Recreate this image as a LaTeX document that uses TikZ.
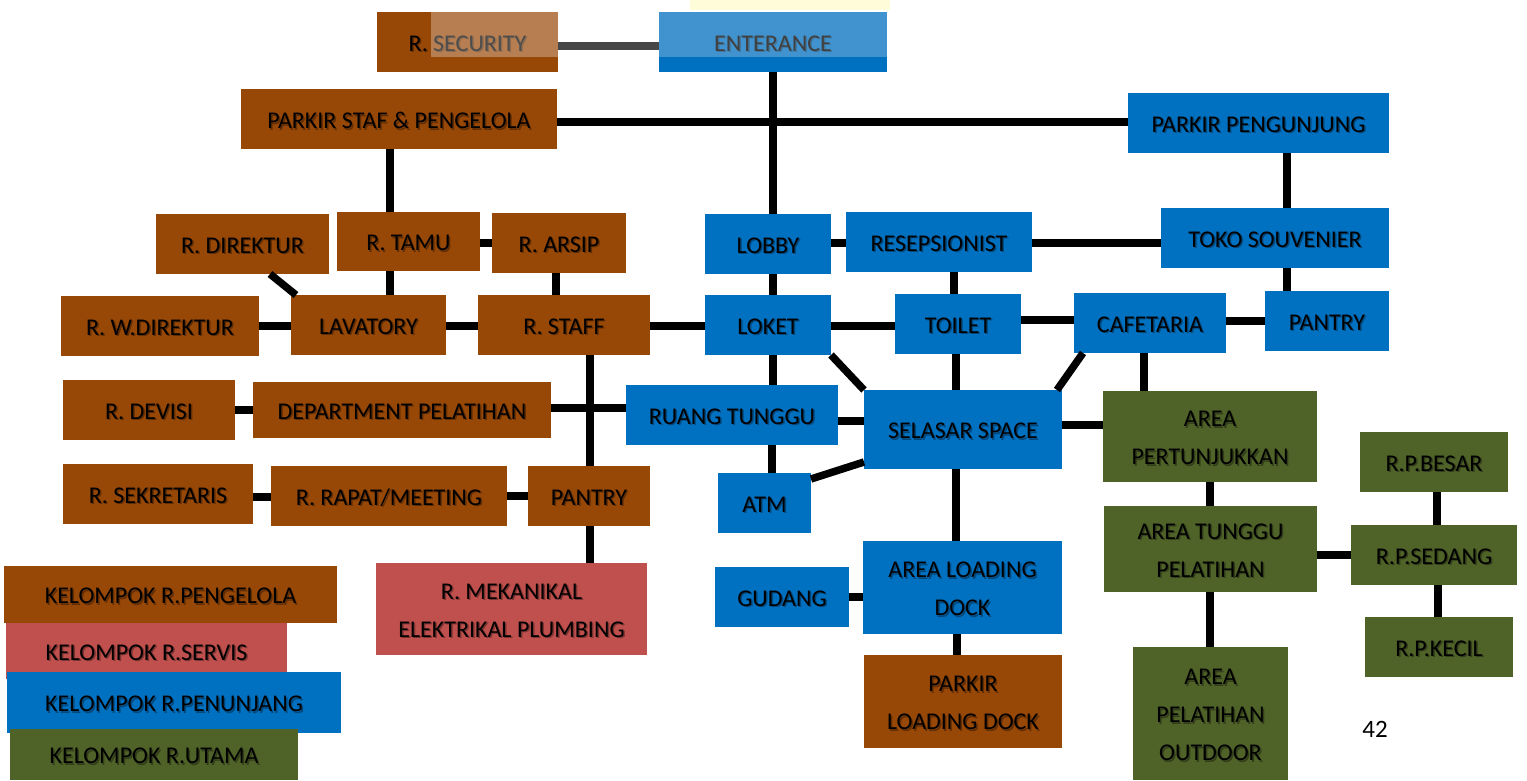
\documentclass[tikz,border=0pt]{standalone}
\usepackage{fontspec}
\setmainfont{Carlito}
\definecolor{cbrown}{HTML}{974706}
\definecolor{cblue}{HTML}{0070C0}
\definecolor{cgreen}{HTML}{4F6228}
\definecolor{cred}{HTML}{C0504D}
\newcommand{\rbox}[7]{%
  \node[rb,fill=#6,minimum width={(#4-#2)*1pt},minimum height={(#5-#3)*1pt}] (#1) at ({(#2+#4)/2},{(#3+#5)/2}) {};%
  \node[rb] (#1t) at ({(#2+#4)/2},{(#3+#5)/2+1.5}) {#7};%
  \node[rb,text opacity=0.35] (#1s) at ({(#2+#4)/2+1.5},{(#3+#5)/2+3}) {#7};}
\begin{document}
\begin{tikzpicture}[x=1pt,y=-1pt,
 rb/.style={draw=none,inner sep=0pt,outer sep=0pt,font=\fontsize{24}{38}\selectfont,align=center,text=black},
 ln/.style={line width=7.5pt,black}]
\useasboundingbox (0,0) rectangle (1527,780);
% faint watermark hint
\fill[yellow!15] (690,0) rectangle (890,10);
% boxes
\rbox{sec}{377}{12}{558}{72}{cbrown}{R. SECURITY}
\rbox{ent}{659}{12}{887}{72}{cblue}{ENTERANCE}
\rbox{pstaf}{241}{89}{557}{149}{cbrown}{PARKIR STAF \& PENGELOLA}
\rbox{ppeng}{1128}{93}{1389}{153}{cblue}{PARKIR PENGUNJUNG}
\rbox{direktur}{156}{214}{329}{274}{cbrown}{R. DIREKTUR}
\rbox{tamu}{337}{212}{480}{271}{cbrown}{R. TAMU}
\rbox{arsip}{492}{213}{626}{273}{cbrown}{R. ARSIP}
\rbox{lobby}{705}{214}{831}{274}{cblue}{LOBBY}
\rbox{resep}{846}{212}{1032}{272}{cblue}{RESEPSIONIST}
\rbox{toko}{1161}{208}{1389}{268}{cblue}{TOKO SOUVENIER}
\rbox{wdir}{61}{296}{259}{356}{cbrown}{R. W.DIREKTUR}
\rbox{lav}{291}{295}{446}{355}{cbrown}{LAVATORY}
\rbox{staff}{478}{295}{650}{355}{cbrown}{R. STAFF}
\rbox{loket}{705}{295}{831}{355}{cblue}{LOKET}
\rbox{toilet}{895}{294}{1021}{354}{cblue}{TOILET}
\rbox{cafe}{1074}{293}{1226}{353}{cblue}{CAFETARIA}
\rbox{pantryr}{1265}{291}{1389}{351}{cblue}{PANTRY}
\rbox{devisi}{63}{380}{235}{440}{cbrown}{R. DEVISI}
\rbox{dept}{253}{382}{551}{438}{cbrown}{DEPARTMENT PELATIHAN}
\rbox{rtunggu}{626}{385}{838}{445}{cblue}{RUANG TUNGGU}
\rbox{selasar}{864}{390}{1062}{469}{cblue}{SELASAR SPACE}
\rbox{pert}{1103}{391}{1317}{482}{cgreen}{AREA\\PERTUNJUKKAN}
\rbox{sekr}{63}{464}{253}{524}{cbrown}{R. SEKRETARIS}
\rbox{rapat}{271}{466}{507}{526}{cbrown}{R. RAPAT/MEETING}
\rbox{pantryl}{528}{466}{650}{526}{cbrown}{PANTRY}
\rbox{atm}{718}{473}{811}{533}{cblue}{ATM}
\rbox{besar}{1360}{432}{1508}{492}{cgreen}{R.P.BESAR}
\rbox{atp}{1104}{506}{1317}{592}{cgreen}{AREA TUNGGU\\PELATIHAN}
\rbox{sedang}{1351}{525}{1517}{585}{cgreen}{R.P.SEDANG}
\rbox{gudang}{715}{567}{849}{627}{cblue}{GUDANG}
\rbox{aload}{863}{541}{1062}{634}{cblue}{AREA LOADING\\DOCK}
\rbox{mek}{376}{563}{647}{655}{cred}{R. MEKANIKAL\\ELEKTRIKAL PLUMBING}
\rbox{kecil}{1365}{617}{1513}{677}{cgreen}{R.P.KECIL}
\rbox{pload}{864}{655}{1062}{748}{cbrown}{PARKIR\\LOADING DOCK}
\rbox{outdoor}{1133}{647}{1288}{780}{cgreen}{AREA\\PELATIHAN\\OUTDOOR}
% legend
\rbox{lg1}{4}{566}{337}{623}{cbrown}{KELOMPOK R.PENGELOLA}
\rbox{lg2}{6}{623}{287}{679}{cred}{KELOMPOK R.SERVIS}
\rbox{lg3}{7}{672}{341}{733}{cblue}{KELOMPOK R.PENUNJANG}
\rbox{lg4}{10}{729}{298}{780}{cgreen}{KELOMPOK R.UTAMA}
\node[font=\fontsize{25}{28}\selectfont,inner sep=0pt] (pg) at (1375,729) {42};
% connectors
\draw[ln,color=black!72] (sec.east |- 0,46) -- (ent.west |- 0,46);
\draw[ln] (ent.south) -- (lobby.north -| ent.south);
\draw[ln] (pstaf.east |- 0,122) -- (ppeng.west |- 0,122);
\draw[ln] (pstaf.south -| 390,0) -- (tamu.north -| 390,0);
\draw[ln] (ppeng.south -| 1287,0) -- (toko.north -| 1287,0);
\draw[ln] (tamu.east |- 0,243) -- (arsip.west |- 0,243);
\draw[ln] (tamu.south -| 390,0) -- (lav.north -| 390,0);
\draw[ln] (arsip.south -| 556,0) -- (staff.north -| 556,0);
\draw[ln] (direktur.south -| 270,0) -- (lav.north -| 296,0);
\draw[ln] (wdir.east |- 0,326) -- (lav.west |- 0,326);
\draw[ln] (lav.east |- 0,326) -- (staff.west |- 0,326);
\draw[ln] (staff.east |- 0,326) -- (loket.west |- 0,326);
\draw[ln] (lobby.east |- 0,243) -- (resep.west |- 0,243);
\draw[ln] (lobby.south -| 773,0) -- (loket.north -| 773,0);
\draw[ln] (resep.east |- 0,243) -- (toko.west |- 0,243);
\draw[ln] (resep.south -| 954,0) -- (toilet.north -| 954,0);
\draw[ln] (toko.south -| 1287,0) -- (pantryr.north -| 1287,0);
\draw[ln] (loket.east |- 0,326) -- (toilet.west |- 0,326);
\draw[ln] (toilet.east |- 0,320) -- (cafe.west |- 0,320);
\draw[ln] (cafe.east |- 0,321) -- (pantryr.west |- 0,321);
\draw[ln] (loket.south east) -- (selasar.north west);
\draw[ln] (toilet.south -| 956,0) -- (selasar.north -| 956,0);
\draw[ln] (cafe.south -| 1083,0) -- (selasar.north -| 1057,0);
\draw[ln] (cafe.south -| 1144,0) -- (pert.north -| 1144,0);
\draw[ln] (loket.south -| 773,0) -- (rtunggu.north -| 773,0);
\draw[ln] (staff.south -| 590,0) -- (pantryl.north -| 590,0);
\draw[ln] (dept.east |- 0,408) -- (rtunggu.west |- 0,408);
\draw[ln] (devisi.east |- 0,410) -- (dept.west |- 0,410);
\draw[ln] (rtunggu.east |- 0,421) -- (selasar.west |- 0,421);
\draw[ln] (rtunggu.south -| 772,0) -- (atm.north -| 772,0);
\draw[ln] (atm.east |- 0,479) -- (selasar.west |- 0,462);
\draw[ln] (selasar.east |- 0,425) -- (pert.west |- 0,425);
\draw[ln] (selasar.south -| 956,0) -- (aload.north -| 956,0);
\draw[ln] (sekr.east |- 0,497) -- (rapat.west |- 0,497);
\draw[ln] (rapat.east |- 0,496) -- (pantryl.west |- 0,496);
\draw[ln] (pantryl.south -| 590,0) -- (mek.north -| 590,0);
\draw[ln] (gudang.east |- 0,597) -- (aload.west |- 0,597);
\draw[ln] (aload.south -| 957,0) -- (pload.north -| 957,0);
\draw[ln] (pert.south -| 1210,0) -- (atp.north -| 1210,0);
\draw[ln] (atp.east |- 0,555) -- (sedang.west |- 0,555);
\draw[ln] (atp.south -| 1210,0) -- (outdoor.north -| 1210,0);
\draw[ln] (besar.south -| 1437,0) -- (sedang.north -| 1437,0);
\draw[ln] (sedang.south -| 1438,0) -- (kecil.north -| 1438,0);
% watermark lightening
\fill[white,opacity=0.3] (431,12) rectangle (558,57);
\fill[white,opacity=0.25] (659,12) rectangle (887,57);
\end{tikzpicture}
\end{document}
